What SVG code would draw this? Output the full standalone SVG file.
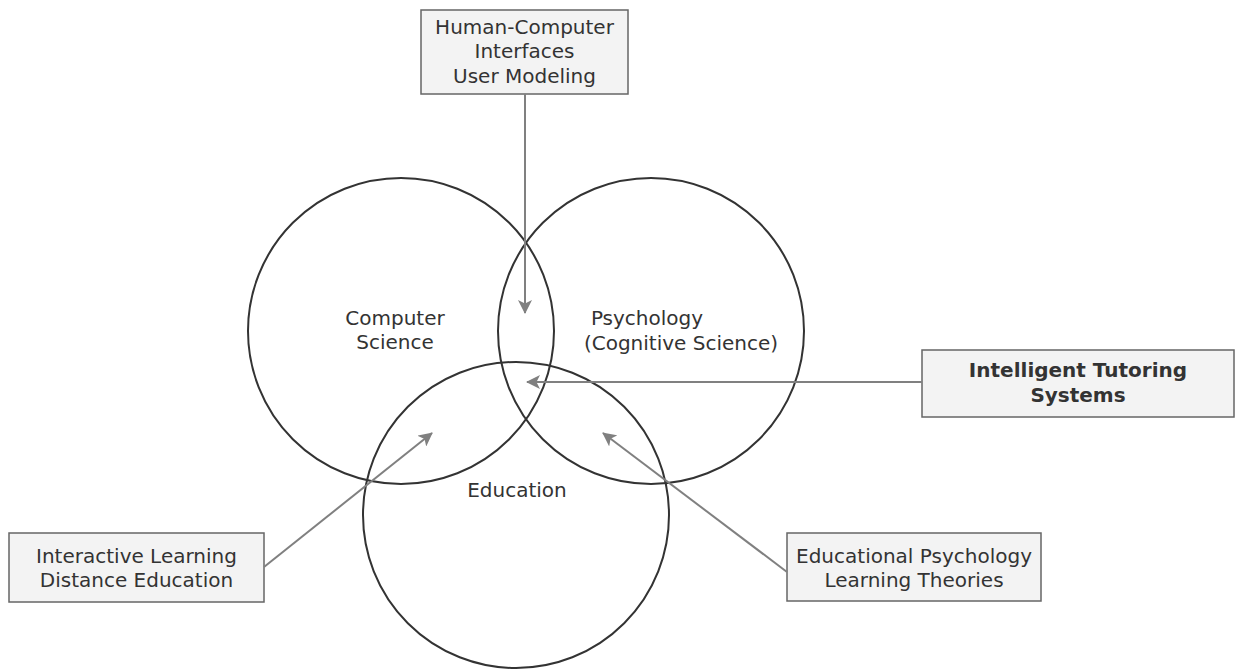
<svg xmlns="http://www.w3.org/2000/svg" width="1235" height="670" viewBox="0 0 1235 670">
<style>
.circ{fill:none;stroke:#333;stroke-width:2}
.box{fill:#f3f3f3;stroke:#666;stroke-width:1.5}
.t{font-family:"DejaVu Sans",Verdana,sans-serif;font-size:20px;fill:#333;text-anchor:middle;dominant-baseline:central}
.b{font-weight:bold}
.con{fill:none;stroke:#808080;stroke-width:2}
</style>
<defs>
<marker id="ah" markerUnits="userSpaceOnUse" markerWidth="14" markerHeight="14" refX="13" refY="7" orient="auto">
<path d="M0,0 L14,7 L0,14 L3.5,7 z" fill="#808080"/>
</marker>
</defs>
<rect width="1235" height="670" fill="#fff"/>
<g id="cs">
<circle class="circ" cx="401" cy="331" r="153"/>
<text class="t" x="395" y="318">Computer</text>
<text class="t" x="395" y="342">Science</text>
</g>
<g id="psych">
<circle class="circ" cx="651" cy="331" r="153"/>
<text class="t" x="647" y="318">Psychology</text>
<text class="t" x="681" y="343">(Cognitive Science)</text>
</g>
<g id="edu">
<circle class="circ" cx="516" cy="515" r="153"/>
<text class="t" x="517" y="490">Education</text>
</g>
<g id="hci">
<rect class="box" x="421" y="10" width="207" height="84"/>
<text class="t" x="524.5" y="27">Human-Computer</text>
<text class="t" x="524.5" y="51">Interfaces</text>
<text class="t" x="524.5" y="76">User Modeling</text>
</g>
<g id="its">
<rect class="box" x="922" y="350" width="312" height="67"/>
<text class="t b" x="1078" y="370">Intelligent Tutoring</text>
<text class="t b" x="1078" y="395">Systems</text>
</g>
<g id="interactive">
<rect class="box" x="9" y="533" width="255" height="69"/>
<text class="t" x="136.5" y="556">Interactive Learning</text>
<text class="t" x="136.5" y="580">Distance Education</text>
</g>
<g id="edpsych">
<rect class="box" x="787" y="533" width="254" height="68"/>
<text class="t" x="914" y="556">Educational Psychology</text>
<text class="t" x="914" y="580">Learning Theories</text>
</g>
<g id="connectors">
<line class="con" x1="525" y1="94" x2="525" y2="313" marker-end="url(#ah)"/>
<line class="con" x1="922" y1="382" x2="527" y2="382" marker-end="url(#ah)"/>
<line class="con" x1="264" y1="567" x2="432" y2="433" marker-end="url(#ah)"/>
<line class="con" x1="787" y1="572" x2="603" y2="433" marker-end="url(#ah)"/>
</g>
</svg>
